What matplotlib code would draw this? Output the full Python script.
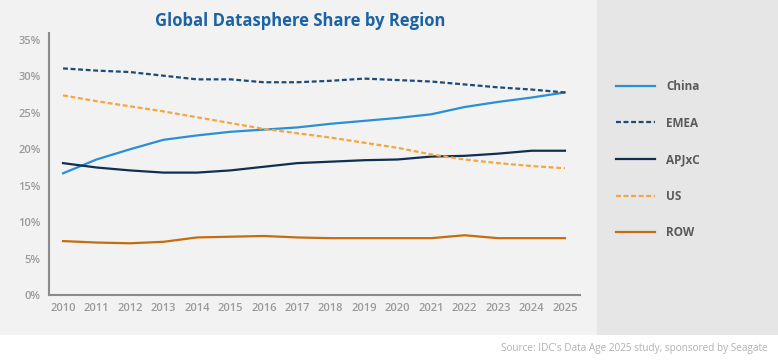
import matplotlib.pyplot as plt
from matplotlib.patches import Rectangle
from matplotlib.ticker import FuncFormatter

years = list(range(2010, 2026))
china = [16.7, 18.6, 20.0, 21.3, 21.9, 22.4, 22.7, 23.0, 23.5, 23.9, 24.3, 24.8, 25.8, 26.5, 27.1, 27.8]
emea = [31.1, 30.8, 30.6, 30.1, 29.6, 29.6, 29.2, 29.2, 29.4, 29.7, 29.5, 29.3, 28.9, 28.5, 28.2, 27.8]
apjxc = [18.1, 17.5, 17.1, 16.8, 16.8, 17.1, 17.6, 18.1, 18.3, 18.5, 18.6, 19.0, 19.1, 19.4, 19.8, 19.8]
us = [27.4, 26.6, 25.9, 25.2, 24.4, 23.6, 22.8, 22.2, 21.6, 20.9, 20.2, 19.3, 18.6, 18.1, 17.7, 17.4]
row = [7.4, 7.2, 7.1, 7.3, 7.9, 8.0, 8.1, 7.9, 7.8, 7.8, 7.8, 7.8, 8.2, 7.8, 7.8, 7.8]
y_ticks = [0, 5, 10, 15, 20, 25, 30, 35]

fig = plt.figure(figsize=(7.78, 3.63), dpi=100)
fig.patch.set_facecolor('white')
# background panels
fig.add_artist(Rectangle((0, 28 / 363), 597 / 778, 1, transform=fig.transFigure,
                         facecolor='#f2f2f2', edgecolor='none', zorder=0))
fig.add_artist(Rectangle((597 / 778, 28 / 363), 1, 1, transform=fig.transFigure,
                         facecolor='#e6e6e6', edgecolor='none', zorder=0))

ax = fig.add_axes([49 / 778, 68 / 363, 531 / 778, 262 / 363])
ax.set_facecolor('none')

lw = 1.6
ax.plot(years, china, color='#2a8fd4', lw=lw, label='China', solid_joinstyle='round')
ax.plot(years, emea, color='#1d4b78', lw=lw, ls=(0, (2.2, 1.2)), label='EMEA')
ax.plot(years, apjxc, color='#112f50', lw=lw, label='APJxC', solid_joinstyle='round')
ax.plot(years, us, color='#f4a640', lw=lw, ls=(0, (2.2, 1.2)), label='US')
ax.plot(years, row, color='#c46c10', lw=lw, label='ROW', solid_joinstyle='round')

ax.set_xlim(2009.58, 2025.45)
ax.set_ylim(0, 35.96)
ax.set_xticks(years)
ax.set_yticks(y_ticks)
ax.yaxis.set_major_formatter(FuncFormatter(lambda v, p: f'{int(v)}%'))
ax.tick_params(length=0, colors='#9a9a9a', labelsize=8, pad=6)
for lab in ax.get_xticklabels() + ax.get_yticklabels():
    lab.set_family('Open Sans')
    lab.set_fontweight('semibold')
for s in ['top', 'right']:
    ax.spines[s].set_visible(False)
for s in ['left', 'bottom']:
    ax.spines[s].set_color('#8a8a8a')
    ax.spines[s].set_linewidth(1.5)

fig.text(300 / 778, 1 - 21 / 363, 'Global Datasphere Share by Region', ha='center', va='center',
         fontsize=12, fontweight='bold', color='#1b63a3', family='Open Sans')

handles, labels = ax.get_legend_handles_labels()
leg = fig.legend(handles, labels, loc='upper left', bbox_to_anchor=(610 / 778, 1 - 74 / 363),
                 frameon=False, handlelength=3.3, handletextpad=0.95, labelspacing=2.0,
                 borderpad=0, prop={'family': 'Open Sans', 'weight': 'bold', 'size': 8.5})
for t in leg.get_texts():
    t.set_color('#5a5a5a')

fig.text(768 / 778, 1 - 348 / 363, "Source: IDC's Data Age 2025 study, sponsored by Seagate",
         ha='right', va='center', fontsize=7.2, color='#b0b0b0', family='Open Sans')

fig.savefig('out.png', dpi=100)
